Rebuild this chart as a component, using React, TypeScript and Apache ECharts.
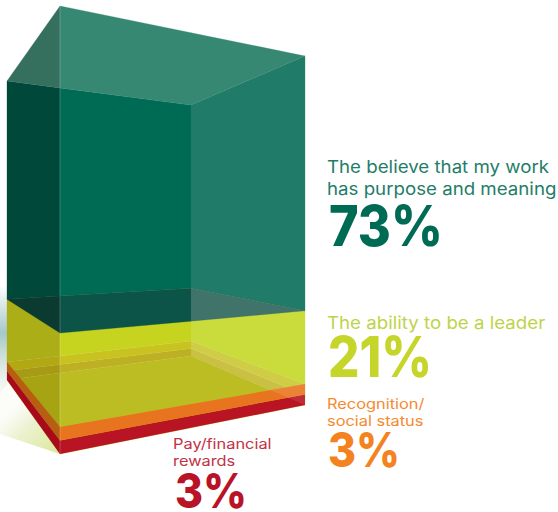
import React, { useEffect, useRef } from "react";
import * as echarts from "echarts";

// Shares, bottom to top of the box
const segmentNames = ["Pay/financial rewards", "Recognition/social status", "The ability to be a leader", "The believe that my work has purpose and meaning"];
const segmentValues = [3, 3, 21, 73];

// Wall colours for each segment: [left of front edge, centre, right of back edge]
const wallColors = [
  ["#a79a14", "#bdb024", "#c3b92f"],
  ["#b2a814", "#c9c321", "#cac732"],
  ["#abae17", "#c6d420", "#c5d826"],
  ["#00483a", "#006b55", "#207c69"],
];
const frontLeftColors = ["#a80a1c", "#b75e12"];
const frontRightColors = ["#b91424", "#e97420"];
const floorColors = ["#a7a414", "#bcbd22", "#bcbd22"];
const planeColors27 = ["#0b3a30", "#0c5447", "#2b6459"];
const planeColorsTop = ["#35705f", "#368873", "#368873"];

const captions = [
  { text: "The believe that my work\nhas purpose and meaning", value: "73%", color: "#1f7d68", big: "#006b55", x: 327, y: 170.5, lh: 22, fs: 17.4, tsx: 1.075, bx: 329, by: 246, bfs: 56, sx: 0.9 },
  { text: "The ability to be a leader", value: "21%", color: "#bdd44a", big: "#c5d52a", x: 327, y: 327, lh: 22, fs: 17.4, tsx: 1.075, bx: 328, by: 378, bfs: 56, sx: 0.88 },
  { text: "Recognition/\nsocial status", value: "3%", color: "#f58a30", big: "#f58220", x: 327, y: 408, lh: 17, fs: 14, tsx: 1.17, bx: 328, by: 468, bfs: 48, sx: 0.89 },
  { text: "Pay/financial\nrewards", value: "3%", color: "#c23246", big: "#b81327", x: 173, y: 448, lh: 17, fs: 14, tsx: 1.17, bx: 175, by: 509, bfs: 48, sx: 0.89 },
];

const GRID_TOP = 6;
const GRID_BOTTOM = 454;
const D = { x: 7, top: 81, bot: 380 };
const A = { x: 60, top: 6, bot: 454 };
const C = { x: 191, top: 105, bot: 356 };
const B = { x: 305, top: 56, bot: 405 };
const BANDS: [number, number][] = [[0, 60], [60, 191], [191, 400]];
const ASCENT = 0.875;

type P = [number, number];

function clipX(poly: P[], lo: number, hi: number): P[] {
  const cut = (pts: P[], inside: (p: P) => boolean, xc: number): P[] => {
    const out: P[] = [];
    pts.forEach((p, i) => {
      const q = pts[(i + 1) % pts.length];
      const pi = inside(p);
      const qi = inside(q);
      if (pi) out.push(p);
      if (pi !== qi) {
        const t = (xc - p[0]) / (q[0] - p[0]);
        out.push([xc, p[1] + t * (q[1] - p[1])]);
      }
    });
    return out;
  };
  const a = cut(poly, (p) => p[0] >= lo, lo);
  return a.length ? cut(a, (p) => p[0] <= hi, hi) : a;
}

function corner(c: { x: number; top: number; bot: number }, api: any, v: number): P {
  const py = api.coord([0, v])[1];
  const f = (GRID_BOTTOM - py) / (GRID_BOTTOM - GRID_TOP);
  return [c.x, c.bot - f * (c.bot - c.top)];
}

function bandShapes(poly: P[], colors: string[]) {
  return BANDS.map(([lo, hi], i) => {
    const pts = clipX(poly, lo, hi);
    return {
      type: "polygon",
      shape: { points: pts },
      style: { fill: colors[i], stroke: colors[i], lineWidth: 0.3 },
    };
  }).filter((s) => s.shape.points.length > 2);
}

const cum = segmentValues.reduce<number[]>((acc, v) => [...acc, acc[acc.length - 1] + v], [0]);
const segmentData = segmentValues.map((v, i) => ({ name: segmentNames[i], value: [cum[i], cum[i + 1], i] }));

function wallItem(_: any, api: any) {
  const lo = api.value(0);
  const hi = api.value(1);
  const i = api.value(2);
  const poly: P[] = [corner(D, api, lo), corner(C, api, lo), corner(B, api, lo), corner(B, api, hi), corner(C, api, hi), corner(D, api, hi)];
  return { type: "group", children: bandShapes(poly, wallColors[i]) };
}

function planeItem(_: any, api: any) {
  const v = api.value(0);
  const colors = v === 0 ? floorColors : v === 100 ? planeColorsTop : planeColors27;
  const poly: P[] = [corner(D, api, v), corner(A, api, v), corner(B, api, v), corner(C, api, v)];
  return { type: "group", children: bandShapes(poly, colors) };
}

function frontItem(_: any, api: any) {
  const lo = api.value(0);
  const hi = api.value(1);
  const i = api.value(2);
  return {
    type: "group",
    children: [
      { type: "polygon", shape: { points: [corner(D, api, lo), corner(A, api, lo), corner(A, api, hi), corner(D, api, hi)] }, style: { fill: frontLeftColors[i] } },
      { type: "polygon", shape: { points: [corner(A, api, lo), corner(B, api, lo), corner(B, api, hi), corner(A, api, hi)] }, style: { fill: frontRightColors[i] } },
    ],
  };
}

function glassItem(_: any, api: any) {
  const lo = api.value(0);
  const hi = api.value(1);
  return {
    type: "polygon",
    shape: { points: [corner(C, api, lo), corner(B, api, lo), corner(B, api, hi), corner(C, api, hi)] },
    style: { fill: "rgba(255,255,255,0.1)" },
  };
}

function edgeItem(_: any, api: any) {
  const a = corner(A, api, api.value(0));
  const b = corner(A, api, api.value(1));
  return { type: "line", shape: { x1: a[0], y1: a[1], x2: b[0], y2: b[1] }, style: { stroke: "rgba(255,255,255,0.28)", lineWidth: 0.8 } };
}

function glowItem() {
  return {
    type: "group",
    children: [
      {
        type: "polygon",
        shape: { points: [[0, 285], [7, 285], [7, 385], [0, 392]] },
        style: {
          fill: new echarts.graphic.LinearGradient(0, 285, 0, 392, [
            { offset: 0, color: "rgba(150,190,190,0)" },
            { offset: 0.45, color: "rgba(150,190,190,0.85)" },
            { offset: 1, color: "rgba(200,215,190,0.15)" },
          ], true),
        },
      },
      {
        type: "polygon",
        shape: { points: [[0, 390], [7, 380], [60, 454], [0, 434]] },
        style: {
          fill: new echarts.graphic.LinearGradient(58, 452, 14, 405, [
            { offset: 0, color: "rgba(218,230,150,0.95)" },
            { offset: 0.6, color: "rgba(232,238,195,0.8)" },
            { offset: 1, color: "rgba(240,242,225,0.2)" },
          ], true),
        },
      },
    ],
  };
}

function textElements() {
  const out: any[] = [];
  captions.forEach((c) => {
    out.push({
      type: "text",
      x: c.x,
      y: c.y - ASCENT * c.fs,
      scaleX: c.tsx,
      style: { text: c.text, font: `400 ${c.fs}px Inter`, lineHeight: c.lh, fill: c.color },
    });
    out.push({
      type: "text",
      x: c.bx,
      y: c.by - ASCENT * c.bfs,
      scaleX: c.sx,
      style: { text: c.value, font: `800 ${c.bfs}px Inter`, fill: c.big },
    });
  });
  return out;
}

export default function App() {
  const ref = useRef<HTMLDivElement>(null);
  useEffect(() => {
    document.body.style.margin = "0";
    const chart = echarts.init(ref.current!, undefined, { renderer: "svg" });
    const custom = (name: string, z: number, data: any[], renderItem: any) => ({
      type: "custom",
      name,
      z,
      silent: true,
      coordinateSystem: "cartesian2d",
      clip: false,
      data,
      renderItem,
    });
    chart.setOption({
      animation: false,
      backgroundColor: "#ffffff",
      grid: { left: D.x, width: B.x - D.x, top: GRID_TOP, bottom: 512 - GRID_BOTTOM },
      xAxis: { type: "value", min: 0, max: 1, show: false },
      yAxis: { type: "value", min: 0, max: 100, show: false },
      graphic: { elements: textElements() },
      series: [
        custom("glow", 1, [[0, 0]], glowItem),
        custom("walls", 2, segmentData, wallItem),
        custom("planes", 3, [{ value: [cum[0]] }, { value: [cum[3]] }], planeItem),
        custom("planes2", 4, [{ value: [cum[4]] }], planeItem),
        custom("front", 5, segmentData.slice(0, 2), frontItem),
        custom("glass", 6, [{ value: [cum[0], cum[3]] }], glassItem),
        custom("edge", 7, [{ value: [cum[0], cum[4]] }], edgeItem),
      ],
    });
    return () => chart.dispose();
  }, []);
  return <div ref={ref} style={{ width: 558, height: 512 }} />;
}
